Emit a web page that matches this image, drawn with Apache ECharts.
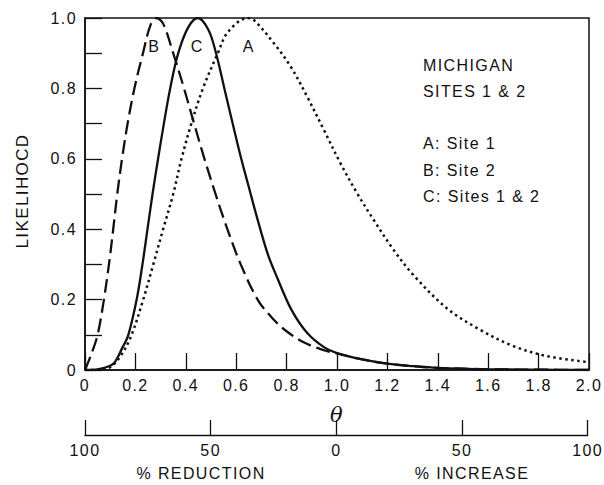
<!DOCTYPE html>
<html>
<head>
<meta charset="utf-8">
<script src="https://cdn.jsdelivr.net/npm/echarts@6/dist/echarts.min.js"></script>
<style>
  html, body { margin: 0; padding: 0; background: #fff; }
  #main { width: 604px; height: 485px; }
  /* the original typesetting is spaced out a bit */
  #main text { letter-spacing: 1.4px; }
</style>
</head>
<body>
<div id="main"></div>
<script>
// likelihood curves (theta, likelihood)
const thetaA = [0, 0.05, 0.1, 0.146, 0.185, 0.231, 0.271, 0.31, 0.35, 0.383, 0.422, 0.468, 0.527, 0.567, 0.646, 0.672, 0.751, 0.817, 0.882, 0.948, 1.014, 1.08, 1.145, 1.224, 1.303, 1.435, 1.566, 1.7, 1.83, 2.0]
const likA = [0, 0.001, 0.008, 0.045, 0.1, 0.2, 0.3, 0.4, 0.5, 0.6, 0.7, 0.8, 0.9, 0.96, 1.0, 0.993, 0.927, 0.861, 0.776, 0.682, 0.587, 0.502, 0.427, 0.342, 0.27, 0.176, 0.115, 0.068, 0.04, 0.022]

const thetaB = [0, 0.025, 0.05, 0.075, 0.095, 0.112, 0.128, 0.147, 0.169, 0.196, 0.23, 0.26, 0.284, 0.31, 0.35, 0.393, 0.433, 0.474, 0.518, 0.565, 0.618, 0.685, 0.74, 0.8, 0.87, 0.94, 1.0, 1.1, 1.2, 1.3, 1.4, 1.6, 1.8, 2.0]
const likB = [0, 0.045, 0.1, 0.2, 0.3, 0.4, 0.5, 0.6, 0.7, 0.8, 0.9, 0.98, 1.0, 0.984, 0.9, 0.8, 0.7, 0.6, 0.5, 0.4, 0.3, 0.2, 0.15, 0.11, 0.078, 0.058, 0.047, 0.03, 0.018, 0.011, 0.006, 0.002, 0.001, 0]

const thetaC = [0, 0.05, 0.1, 0.12, 0.146, 0.172, 0.205, 0.228, 0.248, 0.268, 0.29, 0.313, 0.338, 0.37, 0.41, 0.448, 0.49, 0.52, 0.553, 0.586, 0.62, 0.65, 0.68, 0.725, 0.764, 0.82, 0.882, 0.948, 1.0, 1.1, 1.2, 1.3, 1.4, 1.6, 1.8, 2.0]
const likC = [0, 0.002, 0.012, 0.024, 0.06, 0.1, 0.2, 0.3, 0.4, 0.5, 0.6, 0.7, 0.8, 0.9, 0.974, 1.0, 0.966, 0.9, 0.8, 0.7, 0.6, 0.52, 0.44, 0.33, 0.26, 0.17, 0.105, 0.065, 0.048, 0.03, 0.018, 0.011, 0.006, 0.002, 0.001, 0]

const curveLabels = [['B', 0.275], ['C', 0.445], ['A', 0.65]]
const legendLines = ['MICHIGAN', 'SITES 1 & 2', '', 'A: Site 1', 'B: Site 2', 'C: Sites 1 & 2']

const FONT = 'Liberation Sans, Arial, sans-serif'
const INK = '#111'

const zip = (xs, ys) => xs.map((x, i) => [x, ys[i]])

const chart = echarts.init(document.getElementById('main'), null, { renderer: 'svg' })

const gridLeft = 85
const gridRight = 15
const gridTop = 18
const gridBottom = 115

const option = {
  backgroundColor: '#fff',
  animation: false,
  grid: [
    { left: gridLeft, right: gridRight, top: gridTop, bottom: gridBottom, show: true, borderColor: INK, borderWidth: 1.5 },
    { left: gridLeft, right: gridRight, top: 434, height: 1 },
  ],
  xAxis: [
    {
      type: 'value',
      min: 0,
      max: 2,
      interval: 0.2,
      splitLine: { show: false },
      axisLine: { lineStyle: { color: INK, width: 1.5 } },
      axisTick: { inside: true, length: 17, lineStyle: { color: INK, width: 1.3 } },
      axisLabel: {
        color: INK, fontFamily: FONT, fontSize: 16, margin: 7,
        formatter: v => (v === 0 ? '0' : v.toFixed(1)),
      },
      name: 'θ',
      nameLocation: 'middle',
      nameGap: 34,
      nameTextStyle: { fontFamily: 'DejaVu Serif, serif', fontStyle: 'italic', fontSize: 21, color: INK },
    },
    {
      type: 'value',
      gridIndex: 1,
      min: -100,
      max: 100,
      interval: 50,
      splitLine: { show: false },
      axisLine: { lineStyle: { color: INK, width: 1.3 } },
      axisTick: { inside: true, length: 15, lineStyle: { color: INK, width: 1.3 } },
      axisLabel: { color: INK, fontFamily: FONT, fontSize: 16, margin: 7, formatter: v => String(Math.abs(v)) },
    },
  ],
  yAxis: [
    {
      type: 'value',
      min: 0,
      max: 1,
      interval: 0.1,
      splitLine: { show: false },
      axisLine: { lineStyle: { color: INK, width: 1.5 } },
      axisTick: { inside: true, length: 17, lineStyle: { color: INK, width: 1.3 } },
      axisLabel: {
        color: INK, fontFamily: FONT, fontSize: 16, margin: 8,
        formatter: v => {
          const k = Math.round(v * 10)
          if (k % 2) return ''
          return k === 0 ? '0' : v.toFixed(1)
        },
      },
    },
    { type: 'value', gridIndex: 1, show: false },
  ],
  graphic: [
    {
      type: 'text', x: 22, y: 191, rotation: Math.PI / 2,
      style: { text: 'LIKELIHOCD', font: '17px ' + FONT, fill: INK, align: 'center', verticalAlign: 'middle' },
    },
    {
      type: 'text', x: 201, y: 473,
      style: { text: '% REDUCTION', font: '16px ' + FONT, fill: INK, align: 'center', verticalAlign: 'middle' },
    },
    {
      type: 'text', x: 472, y: 473,
      style: { text: '% INCREASE', font: '16px ' + FONT, fill: INK, align: 'center', verticalAlign: 'middle' },
    },
    ...legendLines.map((t, i) => ({
      type: 'text', x: 423, y: 65 + i * 26.5 + (i >= 3 ? -1 : 0),
      style: { text: t, font: '16px ' + FONT, fill: INK, align: 'left', verticalAlign: 'middle' },
    })),
  ],
  series: [
    {
      name: 'A', type: 'line', data: zip(thetaA, likA),
      smooth: 0.35, symbol: 'none',
      lineStyle: { color: INK, width: 2.5, type: [2.5, 3.5] },
      markPoint: {
        symbol: 'circle', symbolSize: 0,
        label: { show: true, color: INK, fontFamily: FONT, fontSize: 16, formatter: p => p.name },
        data: curveLabels.map(([n, t]) => ({ name: n, coord: [t, 0.92] })),
      },
    },
    {
      name: 'B', type: 'line', data: zip(thetaB, likB),
      smooth: 0.35, symbol: 'none',
      lineStyle: { color: INK, width: 2.3, type: [14, 6] },
    },
    {
      name: 'C', type: 'line', data: zip(thetaC, likC),
      smooth: 0.35, symbol: 'none',
      lineStyle: { color: INK, width: 2.3 },
    },
  ],
}

option && chart.setOption(option)
</script>
</body>
</html>
